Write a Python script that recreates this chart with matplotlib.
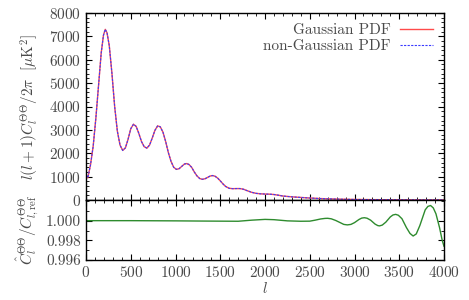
"""CMB temperature spectrum, Gaussian vs non-Gaussian PDF, with ratio panel"""
import matplotlib
matplotlib.use('Agg')
import matplotlib.pyplot as plt
from matplotlib.ticker import MultipleLocator, FormatStrFormatter

plt.rcParams['font.family'] = 'serif'
plt.rcParams['font.serif'] = ['cmr10']
plt.rcParams['mathtext.fontset'] = 'cm'
plt.rcParams['axes.formatter.use_mathtext'] = True

# spectrum, D_l = l(l+1)C_l/2pi in muK^2
ell = [2, 20, 50, 80, 110, 140, 170, 195, 215, 235, 260, 290, 320, 350,
       380, 410, 440, 470, 500, 530, 560, 590, 620, 650, 680, 710, 740,
       770, 800, 830, 860, 890, 920, 950, 980, 1010, 1040, 1070, 1100,
       1125, 1150, 1180, 1210, 1240, 1270, 1300, 1330, 1360, 1390, 1415,
       1440, 1470, 1500, 1530, 1560, 1600, 1640, 1680, 1720, 1760, 1800,
       1850, 1900, 1950, 2000, 2050, 2100, 2150, 2200, 2300, 2400, 2500,
       2600, 2700, 2800, 2900, 3000, 3200, 3400, 3600, 3800, 4000]
dl_gauss = [1050, 950, 1500, 2300, 3500, 4900, 6300, 7050, 7300, 7150,
            6600, 5400, 4000, 2950, 2350, 2120, 2230, 2600, 3050, 3240,
            3150, 2850, 2500, 2280, 2220, 2350, 2650, 2980, 3170, 3130,
            2900, 2500, 2030, 1650, 1400, 1310, 1340, 1440, 1540, 1560,
            1520, 1400, 1200, 1030, 920, 885, 910, 970, 1030, 1045, 1020,
            940, 820, 690, 580, 500, 485, 490, 490, 460, 400, 330, 285,
            265, 255, 250, 235, 205, 170, 135, 110, 85, 65, 50, 40, 30,
            24, 16, 11, 7, 5, 3]
dl_nongauss = list(dl_gauss)

# ratio of the estimated spectrum to the reference one
ell_r = [0, 500, 1000, 1300, 1500, 1700, 1850, 2000, 2100, 2250, 2400,
         2500, 2560, 2620, 2670, 2700, 2740, 2790, 2840, 2880, 2920, 2960,
         3000, 3050, 3080, 3110, 3140, 3180, 3230, 3260, 3280, 3310, 3350,
         3400, 3430, 3460, 3490, 3530, 3580, 3620, 3655, 3690, 3730, 3790,
         3820, 3850, 3880, 3910, 3950, 3980, 4000]
ratio = [1.00000, 1.00000, 0.99998, 0.99996, 0.99995, 0.99994, 1.00005,
         1.00013, 1.00010, 0.99998, 0.99994, 0.99995, 1.00005, 1.00017,
         1.00023, 1.00024, 1.00019, 1.00002, 0.99980, 0.99962, 0.99957,
         0.99962, 0.99980, 1.00012, 1.00026, 1.00030, 1.00025, 1.00005,
         0.99965, 0.99950, 0.99947, 0.99955, 0.99985, 1.00038, 1.00058,
         1.00064, 1.00055, 1.00020, 0.99930, 0.99870, 0.99844, 0.99865,
         0.99950, 1.00110, 1.00145, 1.00154, 1.00130, 1.00070, 0.99930,
         0.99800, 0.99740]

fig = plt.figure(figsize=(4.69, 3.0), dpi=100)
ax1 = fig.add_axes([0.1834, 0.3333, 0.7633, 0.6234])
ax2 = fig.add_axes([0.1834, 0.1333, 0.7633, 0.2])

txt = '#4a4a4a'

ax1.plot(ell, dl_gauss, color='#ff4a4a', lw=1.0, label='Gaussian PDF')
ax1.plot(ell, dl_nongauss, color='#3a3aff', lw=0.8, ls=(0, (2, 1.2)),
         label='non-Gaussian PDF')
ax1.set_xlim(0, 4000)
ax1.set_ylim(0, 8000)
ax1.yaxis.set_major_locator(MultipleLocator(1000))
ax1.yaxis.set_minor_locator(MultipleLocator(200))
ax1.xaxis.set_major_locator(MultipleLocator(500))
ax1.xaxis.set_minor_locator(MultipleLocator(100))
ax1.tick_params(labelbottom=False)
ax1.set_ylabel(r'$l(l+1)C_l^{\Theta\Theta}/2\pi\ \ [\mu{\rm K}^2]$',
               fontsize=11, color=txt, labelpad=6)
leg = ax1.legend(loc='upper right', frameon=False, markerfirst=False,
                 fontsize=11, handlelength=2.2, borderaxespad=0.3,
                 labelspacing=0.15, handletextpad=0.6)
for t in leg.get_texts():
    t.set_color(txt)

ax2.plot(ell_r, ratio, color='#2e8b2e', lw=1.0)
ax2.set_xlim(0, 4000)
ax2.set_ylim(0.996, 1.0021)
ax2.set_yticks([0.996, 0.998, 1.000])
ax2.yaxis.set_minor_locator(MultipleLocator(0.001))
ax2.yaxis.set_major_formatter(FormatStrFormatter('%.3f'))
ax2.xaxis.set_major_locator(MultipleLocator(500))
ax2.xaxis.set_minor_locator(MultipleLocator(100))
ax2.set_xlabel(r'$l$', fontsize=11, color=txt, labelpad=1)
ax2.set_ylabel(r'$\hat{C}_l^{\Theta\Theta}/C_{l,{\rm ref}}^{\Theta\Theta}$',
               fontsize=11, color=txt, labelpad=4)

for ax in (ax1, ax2):
    ax.tick_params(which='both', direction='in', top=True, right=True,
                   labelsize=11, labelcolor=txt)
    ax.tick_params(which='major', length=4)
    ax.tick_params(which='minor', length=2)
    for sp in ax.spines.values():
        sp.set_linewidth(1.0)

fig.savefig('out.png', dpi=100)
